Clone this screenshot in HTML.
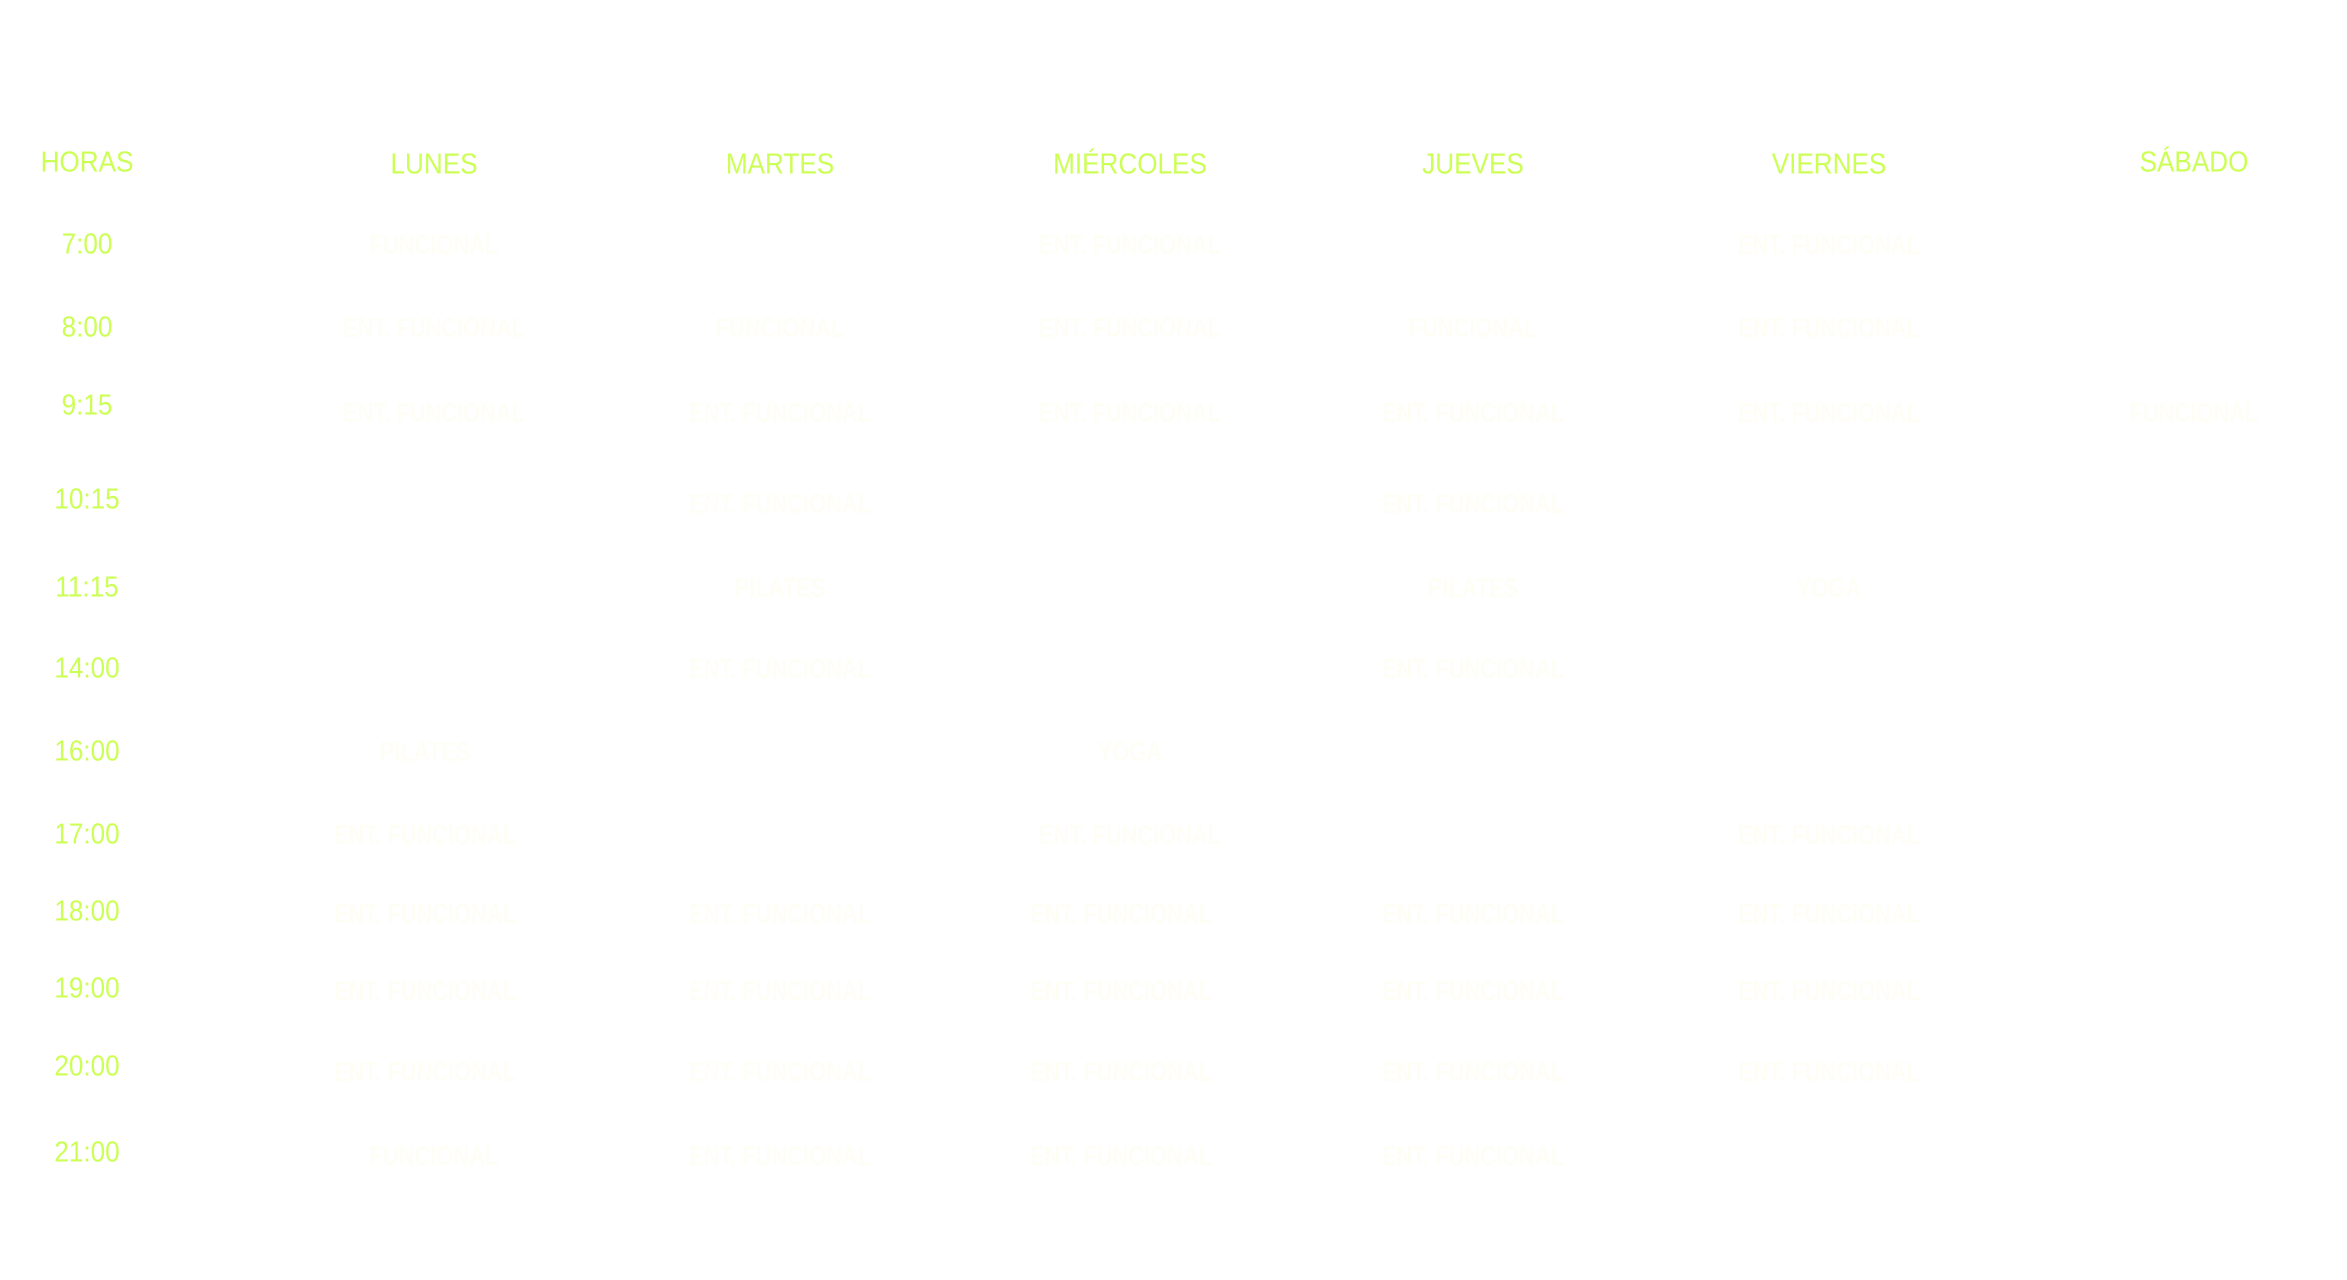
<!DOCTYPE html>
<html><head><meta charset="utf-8"><style>
html,body{margin:0;padding:0;background:#fff;width:2347px;height:1280px;overflow:hidden;position:relative;font-family:"Liberation Sans",sans-serif}
.t{position:absolute;transform:translate(-50%,-50%) scaleX(0.9);white-space:nowrap;font-size:29px;color:#ccff55}
.c{position:absolute;transform:translate(-50%,-50%) scaleX(0.78);white-space:nowrap;font-size:28px;color:#fefef6;font-weight:bold}
</style></head><body>
<div class="t" style="left:87px;top:163px">HORAS</div>
<div class="t" style="left:434px;top:165px">LUNES</div>
<div class="t" style="left:780px;top:165px">MARTES</div>
<div class="t" style="left:1130px;top:165px">MIÉRCOLES</div>
<div class="t" style="left:1473px;top:165px">JUEVES</div>
<div class="t" style="left:1829px;top:165px">VIERNES</div>
<div class="t" style="left:2194px;top:163px">SÁBADO</div>

<div class="t" style="left:87px;top:245px">7:00</div>
<div class="t" style="left:87px;top:328px">8:00</div>
<div class="t" style="left:87px;top:406px">9:15</div>
<div class="t" style="left:87px;top:500px">10:15</div>
<div class="t" style="left:87px;top:588px">11:15</div>
<div class="t" style="left:87px;top:669px">14:00</div>
<div class="t" style="left:87px;top:752px">16:00</div>
<div class="t" style="left:87px;top:835px">17:00</div>
<div class="t" style="left:87px;top:912px">18:00</div>
<div class="t" style="left:87px;top:989px">19:00</div>
<div class="t" style="left:87px;top:1067px">20:00</div>
<div class="t" style="left:87px;top:1153px">21:00</div>

<div class="c" style="left:434px;top:245px">FUNCIONAL</div>
<div class="c" style="left:1130px;top:245px">ENT. FUNCIONAL</div>
<div class="c" style="left:1829px;top:245px">ENT. FUNCIONAL</div>

<div class="c" style="left:434px;top:328px">ENT. FUNCIONAL</div>
<div class="c" style="left:780px;top:328px">FUNCIONAL</div>
<div class="c" style="left:1130px;top:328px">ENT. FUNCIONAL</div>
<div class="c" style="left:1473px;top:328px">FUNCIONAL</div>
<div class="c" style="left:1829px;top:328px">ENT. FUNCIONAL</div>

<div class="c" style="left:434px;top:413px">ENT. FUNCIONAL</div>
<div class="c" style="left:780px;top:413px">ENT. FUNCIONAL</div>
<div class="c" style="left:1130px;top:413px">ENT. FUNCIONAL</div>
<div class="c" style="left:1473px;top:413px">ENT. FUNCIONAL</div>
<div class="c" style="left:1829px;top:413px">ENT. FUNCIONAL</div>
<div class="c" style="left:2194px;top:413px">FUNCIONAL</div>

<div class="c" style="left:780px;top:504px">ENT. FUNCIONAL</div>
<div class="c" style="left:1473px;top:504px">ENT. FUNCIONAL</div>

<div class="c" style="left:780px;top:588px">PILATES</div>
<div class="c" style="left:1473px;top:588px">PILATES</div>
<div class="c" style="left:1829px;top:588px">YOGA</div>

<div class="c" style="left:780px;top:669px">ENT. FUNCIONAL</div>
<div class="c" style="left:1473px;top:669px">ENT. FUNCIONAL</div>

<div class="c" style="left:425px;top:752px">PILATES</div>
<div class="c" style="left:1130px;top:752px">YOGA</div>

<div class="c" style="left:425px;top:835px">ENT. FUNCIONAL</div>
<div class="c" style="left:1130px;top:835px">ENT. FUNCIONAL</div>
<div class="c" style="left:1829px;top:835px">ENT. FUNCIONAL</div>

<div class="c" style="left:425px;top:914px">ENT. FUNCIONAL</div>
<div class="c" style="left:780px;top:914px">ENT. FUNCIONAL</div>
<div class="c" style="left:1121px;top:914px">ENT. FUNCIONAL</div>
<div class="c" style="left:1473px;top:914px">ENT. FUNCIONAL</div>
<div class="c" style="left:1829px;top:914px">ENT. FUNCIONAL</div>

<div class="c" style="left:425px;top:991px">ENT. FUNCIONAL</div>
<div class="c" style="left:780px;top:991px">ENT. FUNCIONAL</div>
<div class="c" style="left:1121px;top:991px">ENT. FUNCIONAL</div>
<div class="c" style="left:1473px;top:991px">ENT. FUNCIONAL</div>
<div class="c" style="left:1829px;top:991px">ENT. FUNCIONAL</div>

<div class="c" style="left:425px;top:1072px">ENT. FUNCIONAL</div>
<div class="c" style="left:780px;top:1072px">ENT. FUNCIONAL</div>
<div class="c" style="left:1121px;top:1072px">ENT. FUNCIONAL</div>
<div class="c" style="left:1473px;top:1072px">ENT. FUNCIONAL</div>
<div class="c" style="left:1829px;top:1072px">ENT. FUNCIONAL</div>

<div class="c" style="left:434px;top:1156px">FUNCIONAL</div>
<div class="c" style="left:780px;top:1156px">ENT. FUNCIONAL</div>
<div class="c" style="left:1121px;top:1156px">ENT. FUNCIONAL</div>
<div class="c" style="left:1473px;top:1156px">ENT. FUNCIONAL</div>
</body></html>
